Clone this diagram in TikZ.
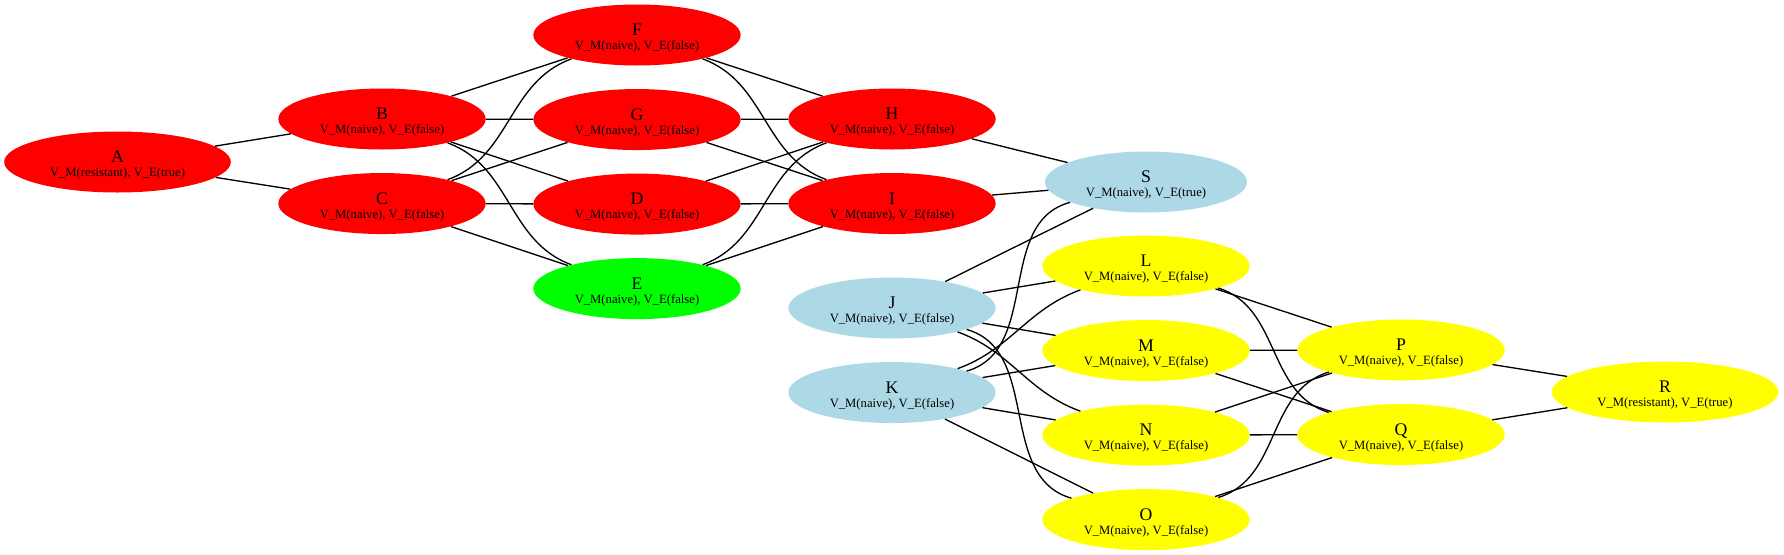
\documentclass[tikz,border=0pt]{standalone}
\usepackage{fontspec}
\setmainfont{Liberation Serif}
\definecolor{StateRed}{RGB}{255, 0, 0}
\definecolor{StateGreen}{RGB}{0, 255, 0}
\definecolor{StateBlue}{RGB}{173, 216, 230}
\definecolor{StateYellow}{RGB}{255, 255, 0}
\usetikzlibrary{positioning, shapes.geometric}
\newcommand{\vname}[1]{{\fontsize{13.3pt}{14pt}\selectfont #1}}

\begin{document}
\begin{tikzpicture}[
        x=0.75pt, y=0.75pt,
        node distance=17.25pt and 36pt,
        % Styles
        state/.style={ellipse, draw=none, inner sep=0pt, minimum width=155.5pt, minimum height=45.75pt, text height=24pt, text depth=2pt, align=center, font=\fontsize{9.5pt}{10.5pt}\selectfont},
        wide/.style={state, minimum width=170pt},
        link/.style={draw, line width=1pt, black}
    ]
        \useasboundingbox (0,0) rectangle (1784,-554);

        % Nodes
        \node [wide, fill=StateRed] (A) at (117.5,-162) {\vname{A}\\V\_M(resistant), V\_E(true)};

        \node [state, fill=StateRed] (B) at (382,-119) {\vname{B}\\V\_M(naive), V\_E(false)};
        \node [state, fill=StateRed, below=of B] (C) {\vname{C}\\V\_M(naive), V\_E(false)};

        \node [state, fill=StateRed] (F) at (637,-35) {\vname{F}\\V\_M(naive), V\_E(false)};
        \node [state, fill=StateRed, below=of F] (G) {\vname{G}\\V\_M(naive), V\_E(false)};
        \node [state, fill=StateRed, below=of G] (D) {\vname{D}\\V\_M(naive), V\_E(false)};
        \node [state, fill=StateGreen, below=of D] (E) {\vname{E}\\V\_M(naive), V\_E(false)};

        \node [state, fill=StateRed] (H) at (892,-119) {\vname{H}\\V\_M(naive), V\_E(false)};
        \node [state, fill=StateRed, below=of H] (I) {\vname{I}\\V\_M(naive), V\_E(false)};
        \node [state, fill=StateBlue] (J) at (892,-308) {\vname{J}\\V\_M(naive), V\_E(false)};
        \node [state, fill=StateBlue, below=of J] (K) {\vname{K}\\V\_M(naive), V\_E(false)};

        \node [state, fill=StateBlue, minimum width=151.5pt] (S) at (1146,-182) {\vname{S}\\V\_M(naive), V\_E(true)};
        \node [state, fill=StateYellow] (L) at (1146,-266) {\vname{L}\\V\_M(naive), V\_E(false)};
        \node [state, fill=StateYellow, below=of L] (M) {\vname{M}\\V\_M(naive), V\_E(false)};
        \node [state, fill=StateYellow, below=of M] (N) {\vname{N}\\V\_M(naive), V\_E(false)};
        \node [state, fill=StateYellow, below=of N] (O) {\vname{O}\\V\_M(naive), V\_E(false)};

        \node [state, fill=StateYellow] (P) at (1401,-350) {\vname{P}\\V\_M(naive), V\_E(false)};
        \node [state, fill=StateYellow, below=of P] (Q) {\vname{Q}\\V\_M(naive), V\_E(false)};

        \node [wide, fill=StateYellow] (R) at (1665,-392) {\vname{R}\\V\_M(resistant), V\_E(true)};

        % Paths
        \foreach \a/\b in {A/B, A/C, B/F, B/G, B/D, C/G, C/D, C/E,
                           F/H, G/H, G/I, D/H, D/I, E/I, H/S, I/S,
                           J/S, J/L, J/M, K/M, K/N, K/O,
                           L/P, M/P, M/Q, N/P, N/Q, O/Q, P/R, Q/R}
            \path [link] (\a) -- (\b);

        % Bent paths
        \foreach \a/\b/\o/\i in {B/E/-20/160, C/F/20/200, F/I/-20/160, E/H/20/200,
                                 K/S/16/195, K/L/20/200, J/N/-20/160, J/O/-16/164,
                                 L/Q/-17/163, O/P/17/197}
            \path [link] (\a) to [out=\o, in=\i] (\b);
    \end{tikzpicture}
\end{document}
